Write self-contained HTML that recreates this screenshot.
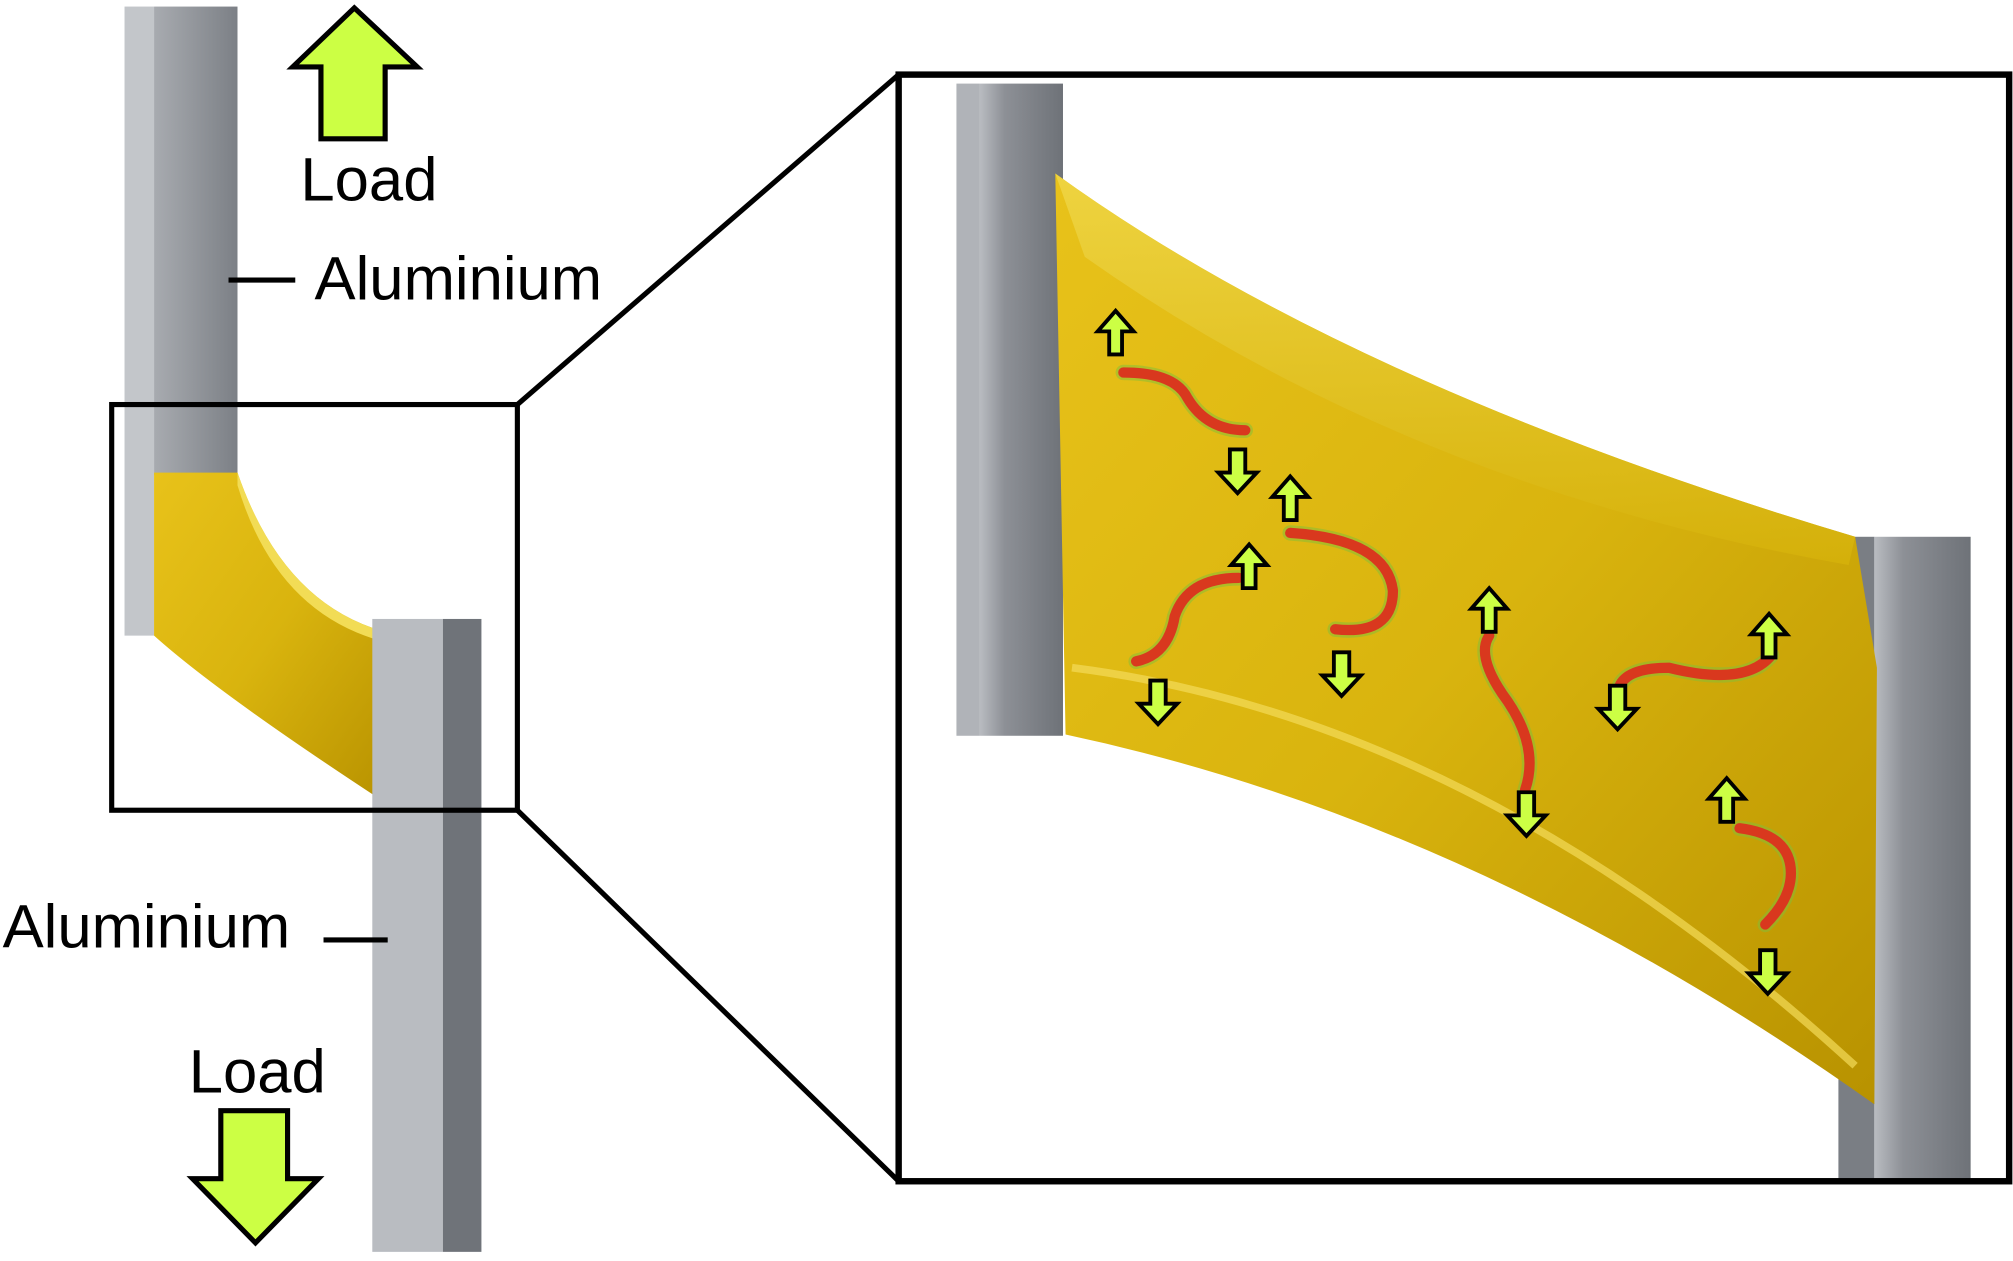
<!DOCTYPE html>
<html><head><style>html,body{margin:0;padding:0;background:#fff;}svg{display:block}</style></head>
<body>
<svg width="2013" height="1261" viewBox="0 0 1568 982" xmlns="http://www.w3.org/2000/svg">
<defs>
<linearGradient id="al" x1="0" x2="1"><stop offset="0" stop-color="#b9bcc1"/><stop offset="0.3" stop-color="#8d9096"/><stop offset="1" stop-color="#6e7278"/></linearGradient>
<linearGradient id="al2" x1="0" x2="1"><stop offset="0" stop-color="#a8abb0"/><stop offset="1" stop-color="#7c8086"/></linearGradient>
<linearGradient id="gold" x1="0" y1="0" x2="1" y2="1"><stop offset="0" stop-color="#e8c21a"/><stop offset="0.5" stop-color="#d9b40e"/><stop offset="1" stop-color="#b89200"/></linearGradient>
<linearGradient id="gold2" x1="0" y1="0" x2="0" y2="1"><stop offset="0" stop-color="#f0d84a"/><stop offset="1" stop-color="#d6b20a"/></linearGradient>
</defs>
<rect x="97" y="5" width="23" height="490" fill="#c3c6ca"/>
<rect x="120" y="5" width="65" height="365" fill="url(#al2)"/>
<path d="M120 368 L185 368 Q220 470 300 492 L300 625 Q170 540 120 495 Z" fill="url(#gold)"/>
<path d="M185 368 Q220 470 300 492 L300 500 Q215 478 185 378 Z" fill="#f2dc55"/>
<rect x="290" y="482" width="55" height="493" fill="#b9bcc1"/>
<rect x="345" y="482" width="30" height="493" fill="#6f7379"/>
<path d="M250 108 L250 52 L228 52 L276 6 L325 52 L300 52 L300 108 Z" fill="#ccff44" stroke="#000" stroke-width="4"/>
<path d="M172 865 L172 918 L150 918 L199 968 L248 918 L224 918 L224 865 Z" fill="#ccff44" stroke="#000" stroke-width="4"/>
<g font-family="Liberation Sans, sans-serif" font-size="48" fill="#000">
<text x="234" y="156">Load</text>
<text x="245" y="233">Aluminium</text>
<text x="2" y="738">Aluminium</text>
<text x="147" y="851">Load</text>
</g>
<line x1="178" y1="218" x2="230" y2="218" stroke="#000" stroke-width="4"/>
<line x1="252" y1="732" x2="302" y2="732" stroke="#000" stroke-width="4"/>
<rect x="87" y="315" width="316" height="316" fill="none" stroke="#000" stroke-width="4"/>
<line x1="403" y1="315" x2="700" y2="58" stroke="#000" stroke-width="4"/>
<line x1="403" y1="631" x2="700" y2="920" stroke="#000" stroke-width="4"/>
<rect x="745" y="65" width="18" height="508" fill="#b0b3b8"/>
<rect x="763" y="65" width="65" height="508" fill="url(#al)"/>
<rect x="1432" y="418" width="28" height="500" fill="#7a7e84"/>
<rect x="1460" y="418" width="75" height="500" fill="url(#al)"/>
<path d="M822 135 Q1050 300 1445 418 L1462 520 L1460 860 Q1150 640 830 572 Z" fill="url(#gold)"/>
<path d="M822 135 Q1050 300 1445 418 L1440 440 Q1100 380 845 200 Z" fill="url(#gold2)" opacity="0.8"/>
<path d="M835 520 Q1150 560 1445 830" fill="none" stroke="#f3dc5a" stroke-width="6" opacity="0.7"/>
<rect x="700" y="58" width="865" height="862" fill="none" stroke="#000" stroke-width="5"/>
<g fill="none" stroke-linecap="round">
<g stroke="#7fbf3a" stroke-width="12" opacity="0.5">
<path d="M875 290 Q915 290 925 310 Q940 335 970 335"/>
<path d="M1005 415 Q1080 420 1085 460 Q1085 495 1040 490"/>
<path d="M965 450 Q925 450 915 480 Q910 510 885 515"/>
<path d="M1160 495 Q1150 510 1170 540 Q1200 580 1188 615"/>
<path d="M1380 510 Q1360 535 1300 520 Q1262 520 1260 540"/>
<path d="M1355 645 Q1395 650 1395 680 Q1395 700 1375 720"/>
</g>
<g stroke="#d9381e" stroke-width="8">
<path d="M875 290 Q915 290 925 310 Q940 335 970 335"/>
<path d="M1005 415 Q1080 420 1085 460 Q1085 495 1040 490"/>
<path d="M965 450 Q925 450 915 480 Q910 510 885 515"/>
<path d="M1160 495 Q1150 510 1170 540 Q1200 580 1188 615"/>
<path d="M1380 510 Q1360 535 1300 520 Q1262 520 1260 540"/>
<path d="M1355 645 Q1395 650 1395 680 Q1395 700 1375 720"/>
</g>
</g>
<g fill="#ccff44" stroke="#000" stroke-width="3">
<path d="M864 276 V258 H855 L869 242 L883 258 H874 V276 Z"/>
<path d="M1000 405 V387 H991 L1005 371 L1019 387 H1010 V405 Z"/>
<path d="M968 458 V440 H959 L973 424 L987 440 H978 V458 Z"/>
<path d="M1155 492 V474 H1146 L1160 458 L1174 474 H1165 V492 Z"/>
<path d="M1373 512 V494 H1364 L1378 478 L1392 494 H1383 V512 Z"/>
<path d="M1340 640 V622 H1331 L1345 606 L1359 622 H1350 V640 Z"/>
<path d="M958 350 V368 H949 L964 384 L979 368 H970 V350 Z"/>
<path d="M896 530 V548 H887 L902 564 L917 548 H908 V530 Z"/>
<path d="M1039 508 V526 H1030 L1045 542 L1060 526 H1051 V508 Z"/>
<path d="M1183 617 V635 H1174 L1189 651 L1204 635 H1195 V617 Z"/>
<path d="M1254 534 V552 H1245 L1260 568 L1275 552 H1266 V534 Z"/>
<path d="M1371 740 V758 H1362 L1377 774 L1392 758 H1383 V740 Z"/>
</g>
</svg>
</body></html>
